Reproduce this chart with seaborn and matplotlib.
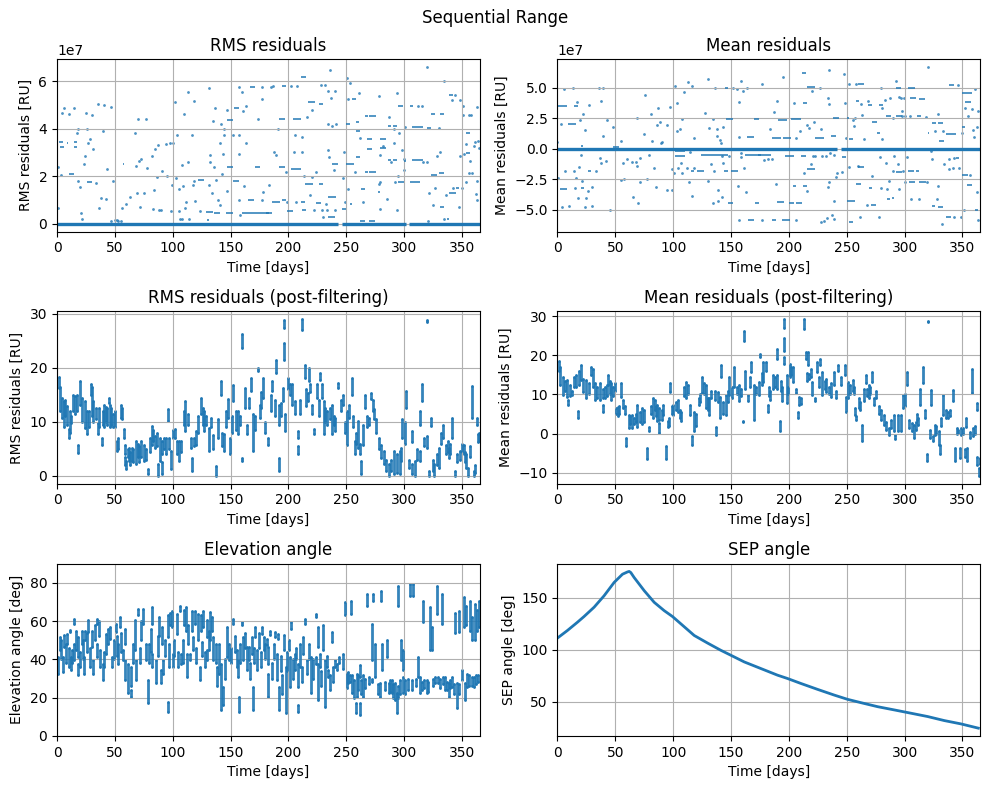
import matplotlib
matplotlib.use("Agg")
import matplotlib.pyplot as plt
from matplotlib.ticker import MultipleLocator
import seaborn as sns
import numpy as np

BLUE = "#1f77b4"
SCALE = 1e7  # top panels are read in units of 1e7 RU
XMAX = 365.25

# ---- RMS residuals (raw), values in 1e7 RU ----
rms_pts = [
    (0.5, 0.67), (1, 2.37), (3.5, 2.06), (4.3, 4.67), (6.3, 4.87), (10.7, 4.64), (15, 4.88), (18.4, 4.0),
    (17.5, 3.84), (17.8, 1.81), (20, 1.53), (21, 0.46), (21.5, 0.21), (23, 2.5), (24, 2.86), (24.8, 4.67),
    (25.5, 3.97), (27, 3.39), (28.2, 3.58), (30.5, 4.56), (31, 3.14), (34, 1.71), (35, 5.06), (36, 0.66),
    (37.7, 1.1), (39.5, 3.9), (41, 4.98), (42.6, 1.05), (43, 2.3), (46.7, 4.92), (46.7, 0.11), (48.7, 1.81),
    (50, 0.15), (51.5, 0.17), (53, 0.12), (55, 0.1), (56, 0.66), (60, 0.84), (63, 1.12), (67, 3.84),
    (68, 2.44), (69.5, 1.3), (70.3, 4.39), (71, 2.65), (72, 0.7), (73, 2.72), (75, 1.3), (77, 4.39),
    (77.5, 2.33), (82, 2.86), (83, 0.63), (84, 1.44), (85, 3.14), (86, 1.95), (87, 3.3), (88, 0.56),
    (90, 0.56), (91, 2.23), (94, 3.35), (95, 2.02), (97.7, 3.39), (98.5, 0.52), (99, 1.65), (100.5, 3.38),
    (102, 5.12), (103, 1.91), (104, 3.72), (105, 0.52), (105.5, 1.46), (106, 0.21), (108, 0.21), (108.6, 1.6),
    (108, 2.47), (110, 4.63), (111, 0.66), (111.5, 0.9), (113, 5.54), (113.5, 2.61), (114, 0.21), (117, 3.72),
    (118, 5.16), (118, 1.81), (117.6, 1.63), (119, 0.95), (123.6, 0.52), (131, 1.63), (131.7, 5.72), (132, 2.9),
    (132.3, 2.61), (134, 1.28), (135, 4.32), (135.7, 2.4), (136.6, 4.88), (137, 1.84), (139.5, 0.98), (141, 0.8),
    (141, 3.38), (141.8, 4.21), (143, 2.09), (143.8, 2.93), (144.4, 3.72), (144.6, 3.97), (146.7, 4.81),
    (146.7, 1.37), (152.4, 3.72), (157, 3.74), (157, 2.93), (157.6, 5.76), (157.6, 0.98), (158, 0.35),
    (160, 5.55), (160.8, 4.74), (162, 1.6), (163, 4.95), (163.7, 3.42), (174, 4.42), (177.5, 0.98),
    (177.5, 5.26), (177.5, 5.76), (178, 1.32), (183.5, 1.63), (184.7, 5.76), (187, 5.8), (187.6, 3.03),
    (189, 2.89), (191, 3.97), (198, 2.19), (199, 0.93), (202, 5.82), (205, 3.0), (205.8, 3.72), (206.6, 0.93),
    (207, 5.82), (212, 3.67), (212, 3.04), (213.5, 2.02), (216, 4.5), (218.7, 1.19), (220, 4.77), (220.7, 1.95),
    (222, 0.56), (223.6, 2.19), (228, 5.86), (232, 5.86), (229, 0.56), (229.7, 0.28), (232.6, 0.84),
    (233.7, 0.56), (234.6, 5.58), (234.6, 4.18), (234.6, 3.11), (235.4, 2.82), (236, 6.46), (236.9, 5.3),
    (238, 4.11), (239, 2.27), (239.8, 0.56), (240, 5.58), (241, 4.18), (247, 1.92), (247.6, 3.04), (249, 0.9),
    (250.4, 6.14), (251.8, 1.46), (251.8, 5.26), (253, 5.93), (257.6, 2.16), (261, 5.5), (262, 3.63), (264, 0.9),
    (278, 1.67), (278, 5.4), (279, 2.89), (279, 1.74), (279, 0.63), (282, 3.28), (285.5, 1.05), (287, 4.49),
    (288.5, 2.61), (291, 3.42), (291, 3.97), (292, 1.74), (294, 5.5), (293.6, 0.56), (294.5, 2.02),
    (295.4, 3.81), (298, 3.1), (299.6, 2.27), (300, 2.72), (301, 4.07), (311.6, 4.95), (315, 4.95), (316, 2.61),
    (319.6, 2.61), (320, 6.6), (321, 0.1), (321.4, 1.28), (324.5, 0.8), (327, 1.49), (328.5, 2.86), (330, 4.04),
    (330.7, 3.03), (334, 0.21), (334.5, 6.0), (336, 1.19), (341, 5.19), (342.6, 1.49), (344, 5.44),
    (347.6, 0.7), (348, 5.19), (348, 2.86), (350, 1.49), (351, 4.6), (351, 4.95), (352, 2.93), (353, 3.35),
    (353, 1.77), (356, 2.12), (356, 4.6), (356.7, 2.65), (358, 4.6), (358.5, 2.12), (360, 3.28), (361.5, 3.45),
    (362, 1.26), (363, 4.92), (363, 0.98), (363, 1.81), (363.7, 3.49), (364.3, 3.17),
]
# runs of repeated values: (start day, end day, value)
rms_runs = [
    (1.5, 5.5, 3.46), (3, 6, 3.24), (8.5, 9.5, 3.4), (10, 15, 2.09), (15, 17, 3.46), (15, 17, 3.24),
    (26, 30, 1.74), (56.8, 58, 2.5), (122, 127, 1.86), (129, 135, 0.49), (130, 131.5, 0.17), (136, 141, 0.45),
    (146.7, 152, 2.37), (146.7, 152, 4.37), (146, 152, 0.45), (153, 157, 4.88), (152, 157, 1.81),
    (160, 183, 0.46), (165, 170, 0.98), (167, 171, 5.76), (171, 175, 2.37), (181, 186, 0.46), (186, 193, 0.93),
    (192, 197, 4.39), (192, 197, 2.37), (194, 198, 0.98), (194, 198, 5.82), (199, 204, 0.52), (202, 211, 2.3),
    (204, 211, 4.42), (211, 215, 6.2), (211, 214, 0.93), (212, 215, 0.56), (214, 221, 1.67), (217, 223, 5.12),
    (224, 228, 0.88), (226, 230, 5.06), (226, 230, 1.67), (234, 241, 1.12), (238, 243, 2.5), (234, 240, 0.28),
    (246, 250, 0.6), (250, 253, 4.2), (250, 257, 2.5), (253, 255, 0.84), (255, 258, 5.26), (258, 261, 4.28),
    (258, 262, 3.9), (258, 262, 2.82), (263, 266, 1.46), (262, 266, 0.1), (266, 269, 4.53), (266, 269, 2.16),
    (268, 272, 3.58), (268, 272, 3.14), (270, 276, 4.53), (270, 276, 2.16), (270, 275, 0.1), (277, 279, 1.35),
    (279, 284, 3.17), (279, 284, 3.55), (286, 289, 4.11), (286, 289, 2.69), (290, 294, 2.69), (290, 294, 4.11),
    (295, 299, 4.95), (295, 300, 1.77), (300, 302, 2.65), (305, 308, 4.95), (305, 314, 1.77), (307, 316, 2.69),
    (307, 316, 4.07), (320, 323, 4.04), (323, 328, 2.06), (323, 327, 4.64), (330, 334, 2.12), (331, 334, 4.64),
    (331, 334, 0.7), (337, 339, 0.21), (339, 342, 5.44), (339, 345, 1.28), (345, 347, 1.49), (353, 357, 3.81),
    (353, 357, 2.97),
]
rms_zero = [(0, 243), (246, 302), (304.5, XMAX)]

# ---- Mean residuals (raw), values in 1e7 RU ----
mean_pts = [
    (0, 0.51), (0.5, -2.43), (3, 2.0), (3.7, -4.81), (5.8, 4.84), (6.3, -1.84), (10, -4.68), (13.8, 4.92),
    (14.4, -1.84), (15, -3.27), (15.9, -2.38), (17.3, 3.84), (17.9, -4.08), (18.4, -1.51), (19.6, 2.35),
    (20, -0.54), (21, -2.65), (22.5, 2.84), (23.6, -4.81), (24, 1.54), (24.5, -4.08), (26, -3.46), (27.4, 3.57),
    (30, -4.68), (30, -3.19), (33, -1.84), (36, 5.0), (37, -0.76), (37.5, -1.16), (37.5, 3.89), (39, 1.05),
    (39.5, 5.0), (41.8, -1.03), (43, 2.3), (45, -5.03), (47.6, 1.76), (54.8, 0.65), (55.3, -2.6), (57.6, -2.51),
    (57, -1.16), (60.5, -0.84), (64, -1.1), (65.7, -4.0), (67.7, -1.1), (69, -1.43), (69, 2.54), (70, -4.46),
    (71, -2.78), (71.5, -0.76), (75, 1.19), (75.8, 4.38), (77, -2.51), (79, -0.54), (81, 2.84), (82, 0.59),
    (83.6, -1.57), (85.6, -3.19), (85.9, 1.95), (86.5, 3.3), (88.5, 2.16), (89.3, 0.46), (90.2, 0.51),
    (94.5, -3.4), (95, 1.95), (97.4, 3.38), (99.4, -3.4), (99.4, -1.7), (101, -1.97), (101.7, 5.1), (103, 3.76),
    (103, 1.46), (104.6, -1.57), (106, 1.6), (106.6, -1.22), (107.5, 2.43), (108, -1.97), (109, 4.65),
    (111.8, -1.57), (113, 5.46), (113.8, -2.73), (114.7, -0.3), (116, -3.86), (116.7, 5.1), (117.6, -1.57),
    (118, 0.86), (127.7, 2.89), (129.7, 5.73), (130.5, -2.65), (131, 1.68), (132.5, -1.3), (134, 2.4),
    (134, -4.46), (135.4, -1.84), (136.3, 4.92), (137.5, 1.6), (137.7, 1.0), (139, -3.4), (139, -4.32),
    (140.6, 0.73), (141, 0.46), (141.8, -0.62), (142.7, -1.16), (142.6, -4.0), (143.5, 1.73), (148.4, -0.57),
    (152, 4.92), (155, 4.84), (155.6, -3.05), (156.5, 3.78), (157, 0.95), (157, -5.89), (158.5, -0.35),
    (159, -0.68), (159, 5.54), (160, 4.7), (160.8, -1.62), (162.8, -3.54), (164, 5.0), (177, 5.27),
    (177, -5.84), (178.7, -0.97), (181.6, -0.89), (183.6, 1.6), (185, -0.89), (187, 3.03), (188.8, -2.92),
    (190, 3.92), (194.5, 5.86), (204.6, 3.76), (206, 0.86), (206, -5.89), (209.5, 1.41), (212.7, -2.03),
    (215.6, 1.95), (216, -3.46), (217, 1.68), (219, -1.3), (220, 4.7), (220.5, -0.62), (222, 2.14),
    (223, -0.57), (226.8, 5.0), (227.7, 1.62), (227.7, -6.03), (229, -0.62), (230.5, -5.97), (232, -0.57),
    (232.8, -5.7), (233.4, -3.19), (233.4, 4.11), (234.3, 3.65), (235, -2.78), (235, 6.46), (235.7, -0.35),
    (237, -5.43), (238.6, -4.27), (239, -0.49), (239, -5.76), (240.6, -2.32), (242, -2.03), (246, -1.92),
    (248, 6.14), (248.7, 3.7), (249, 0.86), (251.6, -1.49), (252, 5.27), (255, 2.35), (256.5, 1.81),
    (257, 2.49), (258, 5.27), (260, -1.43), (261.7, -5.62), (262, 3.65), (263, 2.76), (265, 0.78),
    (267.4, -4.62), (268.6, 3.89), (271.5, -2.24), (278, -5.57), (279.5, -3.27), (280, 4.92), (280.4, 0.78),
    (280.4, 3.3), (278.7, -0.68), (283, 3.97), (283.8, -1.16), (284.7, -3.32), (286.7, -2.65), (287.6, 4.11),
    (289.6, 2.54), (289.6, -1.84), (291, -0.62), (292.5, 5.51), (294, -1.3), (295.4, -3.32), (295.4, 4.19),
    (296.8, 4.16), (297.4, 3.08), (298, 2.7), (299, -1.84), (299.7, 4.11), (300.3, -2.73), (300.3, 2.68),
    (301.7, -0.68), (304.8, 2.68), (305.6, -4.14), (312.7, -4.14), (318.4, 2.57), (319.3, -2.73),
    (319.9, 6.68), (322.8, -0.22), (323.4, -0.89), (326.2, 1.46), (327.7, -4.14), (328.5, 2.84),
    (329.3, -3.05), (332, -6.16), (332.9, 1.46), (334.3, -1.24), (338, -0.89), (338.6, -1.65),
    (341.5, -1.57), (342.4, -5.57), (343, -0.76), (346.4, 5.19), (347.3, -1.57), (348.7, -5.57),
    (349.3, 1.27), (351.6, -5.03), (352.4, 3.35), (355, 2.68), (356.8, -2.16), (358, 3.22), (358.8, 1.54),
    (360, 0.95), (361, 4.84), (362.5, 1.76), (363, -3.59), (363.7, 3.11), (363.7, -5.89),
]
mean_runs = [
    (0.5, 8, 3.49), (2, 8, -3.32), (9, 16, 2.0), (14, 18, 3.49), (20, 22, 0.19), (20, 23, -3.24),
    (26, 29, -1.84), (48, 53, 0.1), (102, 110, -0.62), (102, 110, -0.22), (115, 118, -1.84), (121, 127, -1.84),
    (124, 147, -0.49), (144, 147, -1.84), (145, 147, 4.92), (145.5, 152, 2.4), (147, 152, -4.46),
    (150, 155.6, -1.84), (162, 175.9, -0.49), (164, 170, 0.92), (165, 170, -5.84), (170, 174, 2.4),
    (170.6, 174, -4.46), (173, 184.4, -0.49), (185, 189, -5.89), (185, 193, 0.86), (190, 196, -4.4),
    (190.8, 198.8, 2.35), (194, 201, -5.89), (195, 201.7, 0.86), (197, 204.6, -0.57), (200, 204, -4.49),
    (201.7, 210.4, 2.4), (203.7, 206, -3.05), (206, 211, -4.49), (211, 215, 6.19), (210.4, 215, -0.57),
    (212, 216, 3.76), (212, 216, -3.05), (215.6, 223, 5.05), (216, 223, -1.7), (223, 230.5, 0.86),
    (236, 240.6, 1.05), (237.8, 243.5, 2.49), (246, 249, -0.68), (250, 252, 2.49), (250, 257, -4.32),
    (252, 255.6, 0.78), (252, 255, -6.03), (258, 261, 3.89), (258, 262, -2.92), (260, 265, -1.49),
    (260, 265, 5.27), (268, 272, 3.54), (269, 272, -3.24), (271, 275, -4.62), (272, 276, 2.16),
    (276.5, 278.5, 1.27), (277.5, 281, 3.57), (284, 288, 2.68), (285, 287, -4.14), (289, 291, -4.05),
    (292.5, 296.8, 4.97), (292.5, 298, 2.68), (292.5, 298, -1.92), (302.6, 308, -1.84), (303, 309.4, 5.0),
    (304, 309.4, -2.73), (305, 309.8, 4.11), (309.8, 312.7, -1.84), (311, 314, 2.68), (312.7, 317.6, 4.03),
    (312.7, 318.4, -2.73), (320, 321.5, 1.27), (323.4, 326.2, -4.73), (323.4, 327, 2.08),
    (328.5, 332.9, -4.76), (329, 332.9, 2.08), (330, 334.3, 0.65), (335.7, 339.5, 1.19), (335.7, 340, -5.57),
    (338.6, 343, 5.19), (339.5, 344.4, 1.19), (344.4, 347.3, -0.76), (350, 352, 1.76), (349.3, 354.5, 4.59),
    (350, 354.5, -2.16), (352, 357, 3.84), (353.6, 358.5, -3.0), (355, 358, 4.59), (361, 363.7, -5.03),
]
mean_zero = [(0, 242), (245, XMAX)]

# ---- post-filtering passes: (day, low, high) spread of each pass ----
post_rms = [
    (1.5, 16.3, 18.4), (2.5, 12, 16.5), (4, 10.8, 14.5), (6, 9, 13.8), (7, 11, 14), (8.5, 9.5, 13),
    (10.3, 7, 8.6), (11, 8, 12), (12.5, 9.8, 11), (14, 12, 15), (15.5, 11.4, 14.8), (17, 12, 15),
    (18, 4.3, 5.8), (20, 13.2, 17.5), (22, 10, 14.5), (24, 8.9, 13.8), (26, 7.7, 12), (27.5, 9, 12),
    (29.5, 15, 17), (30.5, 11, 16.5), (31.5, 10, 13.8), (33.5, 10.5, 12.5), (35.5, 7.7, 9.8),
    (36.5, 9, 12.5), (38.5, 5.8, 7), (40, 9.5, 12), (41, 9, 13.2), (42, 10, 12.8), (43.5, 9.5, 12.5),
    (44.5, 13.5, 14.5), (45.5, 9, 13.2), (47, 9.5, 12.5), (48.5, 9, 11.4), (50, 9, 12), (51.5, 4.6, 6.5),
    (53, 5, 7), (55, 10.8, 13.2), (56, 10.5, 12.5), (57.5, 7, 8.6), (58.5, 2, 3.5), (59, 4, 5.8),
    (60, 1.2, 2.8), (61, 3.5, 5), (62, 2.8, 5.2), (63, 2, 4.5), (64.5, 2.8, 5.2), (66, 2.5, 5),
    (68, 2.2, 6.5), (70, 3.5, 6), (71, 2.5, 5.5), (73, 3.5, 6.5), (75, 2.8, 5.8), (76.5, 3, 5),
    (78.5, 0.3, 1.2), (80, 4.5, 7), (82, 5.8, 9.2), (83, 6.5, 8.5), (84.5, 5.2, 7.4), (86, 5.5, 8),
    (87, 0, 2.2), (89, 2.8, 7), (90.5, 4, 6.5), (91, 0.3, 2.5), (92.5, 5, 7), (94, 4, 7), (96, 10.2, 12.3),
    (97, 5, 7), (98.8, 1.2, 4.6), (100, 7, 8.5), (102, 7, 8.6), (103.5, 4, 6.5), (105.5, 2.8, 6.5),
    (107.5, 4.5, 6.5), (109.5, 9.5, 12), (111, 8.3, 13.8), (113, 9.5, 11.5), (115.5, 5.2, 7.1),
    (117, 0.9, 3.4), (118.5, 5.5, 7), (120.5, 5.8, 8.3), (122, 8, 11), (124, 11.4, 14.5), (126, 9.5, 12.5),
    (127, 8.3, 12), (129, 9.5, 11), (131, 4.6, 8.9), (133, 9, 10.8), (134.5, 5, 7.5), (137, 0, 1.8),
    (139.5, 7, 10.5), (141.5, 15, 17.5), (143, 5.5, 8), (144.5, 4.6, 7.7), (146, 9, 12), (147.5, 10.8, 14.2),
    (149.5, 4, 7), (151, 8, 11), (152.5, 13.8, 16.9), (154.5, 8.5, 12), (156.5, 7.7, 12), (158, 9.5, 11),
    (159.6, 2.8, 3.4), (160, 23.7, 26.2), (162.5, 12.6, 16.3), (164.5, 7.7, 9.5), (166, 12.5, 14.5),
    (167.5, 15.7, 18.2), (169.5, 4.6, 11.4), (171.5, 8.5, 11), (174, 19.4, 20), (175, 10.8, 13.2),
    (176.5, 12.5, 15.5), (178, 14.5, 18.2), (180, 8, 10), (182, 5.8, 7), (184.5, 12, 15), (186, 15.7, 17.5),
    (188, 11, 14), (189.5, 19, 21.5), (191.5, 9.5, 13.2), (192, 0.9, 3.4), (193.5, 11, 13.5),
    (195.5, 13.8, 16.3), (196, 27.4, 28.9), (196, 21.5, 24.6), (197, 8.3, 11.4), (199.5, 16, 18.2),
    (201, 15, 17), (203, 13.2, 17), (205.5, 11.4, 13.8), (208, 4, 5.5), (208.5, 7, 8.3), (210, 11.5, 14),
    (212, 27, 29), (214.5, 18.2, 20.6), (215.5, 13, 16), (217, 13.8, 15.4), (217.5, 17.5, 20),
    (219, 15.5, 17), (220, 11.4, 13.2), (222, 7.7, 8.6), (224.5, 14.5, 17), (226, 11, 14), (227, 17.8, 19),
    (229, 14.5, 17), (230.5, 7.7, 13.8), (232, 10, 12.5), (233.5, 9.5, 12), (235.5, 10.5, 12.5),
    (237.5, 7.7, 13.2), (239, 9.5, 11), (240.5, 8.3, 10.8), (243, 16.3, 17.2), (245, 12, 14),
    (247, 13.2, 15), (249, 8, 10), (250.5, 5.8, 12), (252.5, 10.8, 13.2), (254.5, 15, 18.2), (256, 9, 11),
    (257.5, 4, 6.5), (258.5, 6, 8), (260, 5.2, 10.2), (261.5, 4, 6), (262.7, 0.3, 2.8), (264.7, 5.8, 9.5),
    (266.5, 12.6, 15), (268, 9, 11), (269.3, 9.5, 10.8), (271, 14.2, 15.4), (273, 12, 14), (274, 10.5, 12.3),
    (276, 8, 10.5), (278, 5, 7), (280, 3.4, 5.8), (282.3, 2.2, 4.6), (284.5, 1, 3), (286.5, 0, 2.2),
    (288.5, 1, 3), (291, 0.3, 4.6), (293.5, 0.5, 4), (296, 0.3, 4.6), (297, 2.8, 5.2), (298.5, 7, 10.5),
    (300.5, 6, 10), (302, 12.6, 15.7), (304.5, 1.5, 3), (306.5, 0.3, 2.2), (307, 6.2, 8.3), (309.5, 0, 2.8),
    (311.5, 3, 5), (313.5, 9.5, 12), (314, 2.8, 4.6), (315, 13.8, 17), (317, 5.5, 7), (319.5, 5.2, 7.4),
    (320, 28.5, 28.9), (321.3, 0, 0.9), (323, 9.2, 10.8), (324.5, 1, 3), (326, 0, 2.2), (328, 2, 4),
    (330.3, 1.5, 5.2), (332, 6, 8), (333.7, 7, 9.5), (336, 4, 5.8), (337.5, 4.5, 6.5), (339, 3.4, 5.2),
    (340, 4, 6), (341.3, 7, 10.8), (344, 0, 0.9), (346, 2.5, 4), (348.5, 3, 4.6), (350, 4.5, 6),
    (351.3, 4, 5.8), (352.5, 2.5, 4.5), (353.8, 1.5, 4), (355, 0, 1.5), (357, 3.5, 5.5), (358.5, 10.8, 16.6),
    (360, 0, 0.9), (361.5, 0.5, 2), (363, 9.5, 10.8), (364, 6.2, 7.7), (365, 6.5, 8),
]
post_mean = [
    (1.7, 16, 18.6), (2.5, 12.5, 17), (4.7, 9.8, 14.5), (6.5, 11, 13.5), (8.5, 9.4, 13.6), (9.5, 7.3, 8.6),
    (11, 9.5, 12.5), (12.3, 9.8, 11), (14, 12, 14.5), (15.8, 12, 14.9), (17.9, 4, 5.8), (18.5, 12.5, 16),
    (20, 13.6, 17.4), (22, 10.5, 14), (25, 9, 13.6), (27, 10, 13), (29, 14.9, 17), (31, 12, 16.5),
    (32.5, 8.6, 12.8), (34.5, 9, 12), (37, 8.6, 12.8), (39, 5.6, 7.3), (39.5, 9, 11.5), (41, 9, 12),
    (42.5, 9.5, 12.5), (43.5, 12.4, 14.9), (45, 10, 13.5), (46, 8.6, 12.8), (48, 9.5, 12), (49.5, 11, 12.8),
    (51, 5, 6.5), (52, 4.4, 6.9), (53.5, 5, 7), (54.5, 9.4, 12.8), (56.5, 6.5, 8.6), (58, 5, 7),
    (59.2, -3.2, -1.1), (61.5, 1.4, 4.8), (62.5, 2.5, 4.5), (64.5, 1.4, 4.8), (66, 2.5, 4), (68, 3, 5),
    (69, 1.8, 7.3), (71, 3, 5.5), (73, 2.5, 6.5), (75, 3, 6), (77.5, -6.6, -3.6), (79, 0.6, 1.8),
    (80.5, 5, 7), (82.2, 4, 9), (84, 6, 8.5), (85.5, 4.5, 7), (86, 3.1, 7.3), (87.5, 0.2, 2.7),
    (88, 3.5, 6.5), (90, 3.5, 6), (91.5, 4.8, 7.3), (93.5, -6.6, -3.2), (95.2, 1.8, 3.1), (96, 2, 4),
    (97.2, 10.7, 12.8), (99, 5, 7), (100, 4.8, 7.3), (102.5, 6, 8), (103.8, 5.6, 8.6), (105.5, 4, 6),
    (107, 3.1, 5.6), (109.5, 9.5, 12), (111, 9, 13.2), (113, 10, 12.5), (114.6, 4.8, 7.3),
    (116.6, -2.8, -0.7), (118.3, 0.6, 5.6), (120, 2, 5), (122, 7.3, 9), (123, 8, 10), (125, 10.3, 14.5),
    (126.5, 10, 13), (128.5, 6.5, 12.4), (130, 6, 9), (131.2, 4.8, 9), (133, 9, 11), (136, 8.6, 11),
    (137.4, -0.3, 1.8), (138.5, 8, 10.5), (140.5, 4, 9.4), (141.7, 14.5, 17.4), (143, 5, 8),
    (145.5, 4.8, 9.8), (147, 8, 11), (148, 9.8, 14.5), (150.5, 9, 12), (153, 12, 17), (155, 10, 12),
    (157.3, 8.2, 12.4), (159, 9.5, 11.5), (160.5, 2.9, 3.3), (161, 23.7, 26.2), (162.5, 11.5, 16.1),
    (164.5, 8.2, 9.8), (166, 12, 14.5), (167.5, 15.7, 18.2), (169.5, 3.5, 12.4), (171.5, 10, 12),
    (174, 9.8, 13.2), (175, 19.5, 20.3), (176.5, 12.5, 15.5), (178, 13.2, 18.2), (180, 16, 18.2),
    (181.7, 5.6, 7.3), (183, 9.5, 12), (184, 8.6, 11), (186, 11.5, 14.9), (188, 12, 14.5),
    (189.5, 11.5, 14.9), (189.7, 19, 21.6), (192.5, 0.6, 3.1), (193, 11, 13.5), (194, 8.2, 11.9),
    (195.6, 17.8, 19.5), (195.8, 27, 29.2), (195.8, 21.2, 24.5), (198.2, 7.7, 14.9), (199.5, 10, 12),
    (200.8, 14.5, 17.8), (202, 15, 17), (203.7, 13.2, 17), (206.2, 10.3, 11.5), (208, 4, 5.6),
    (208.8, 7.3, 9.4), (210.5, 7.5, 9), (213, 26.6, 29.2), (214.5, 19, 20.8), (215.5, 13.5, 15.5),
    (216.5, 17.4, 20.8), (217, 14, 15.3), (219, 14.5, 16.5), (220.2, 9.8, 13.2), (222.3, 8.2, 9),
    (224.5, 15.7, 18.2), (226, 12, 14.5), (227.3, 17.4, 19), (229, 9.8, 15.7), (231, 11.5, 13.5),
    (232.5, 10.7, 14), (234.5, 10, 12), (236, 9.4, 12.8), (238.9, 12.4, 15.7), (240.5, 9, 11),
    (242.2, 16.1, 17.4), (245, 12.5, 14.5), (248.5, 14.9, 17.4), (249.5, 5.6, 9.4), (251.5, 9, 13.2),
    (252.5, 10, 12.5), (255, 11, 13.6), (256.5, 10, 12), (257.5, 4.8, 6.5), (258.3, 3.5, 4.4),
    (260.8, 6.5, 9), (261.5, 6, 8), (263, -1.9, 2.3), (264.5, 8.2, 11.5), (266.6, 12.8, 14.9),
    (267.5, 9.5, 11.5), (269, 9, 12.4), (270.5, 10, 12), (272, 13.2, 15.7), (273.2, 7.3, 9), (275, 9, 11),
    (277.5, 5, 7), (279.6, 3.5, 6), (281.8, 2.3, 4.8), (284, 1, 3), (286.6, -0.3, 1.4), (288.5, 1.5, 3.5),
    (291, 0.6, 4.8), (291.5, -1.5, -0.3), (294, 0.6, 4.8), (296.5, 0.6, 4.8), (298.9, 6.5, 9.8),
    (300, 7, 10), (301.7, 12.4, 15.7), (303.5, 1.5, 3.5), (306.5, 0.6, 2.7), (307.7, -1.1, 2.3),
    (309.5, 1, 3), (311, 3.5, 5), (312, 2.3, 4), (313.2, 7.3, 11.5), (315.7, 12.8, 17), (317.5, 4, 6),
    (319.7, -7, -5.3), (320, 28.6, 28.8), (322, -1, 1), (322.6, 7.3, 11.1), (324.3, -1.9, -0.7),
    (326.5, -0.3, 2.3), (327.5, 0, 2), (329.4, -2.8, 0.6), (330.8, -5.3, -2.8), (331.5, 2, 4),
    (333.6, 4.8, 9.8), (335.5, 4, 6), (337.2, 4, 5.6), (339.5, 4.5, 6), (341.7, 8.2, 11.1),
    (343.7, -7, -3.6), (345, 0, 1.5), (346.5, 0.2, 1), (348, -6.1, -3.6), (348.5, -0.3, 1.4),
    (350.5, 0, 1.5), (352, -6, -4), (353.2, 1.8, 4), (354.2, -7, -3.6), (356.5, -1, 0.5),
    (358.5, 10.3, 16.6), (359.5, -0.7, 1.4), (360.5, 0, 2), (362.3, 6, 7.7), (362.5, -8, -6),
    (364.4, -10.8, -8.7), (364.8, -7.8, -6.1),
]
elevation = [
    (1.2, 32.6, 41.2), (2.8, 44.7, 51.6), (3.5, 40, 50), (4.8, 33.4, 41.2), (6.2, 46.4, 52.5),
    (7.5, 38, 48), (8.5, 48, 53.4), (10, 36, 46), (11, 54.2, 55.5), (11.8, 34.3, 41.2), (13, 38, 45),
    (14.5, 39.5, 48.2), (15, 58.6, 61.2), (16.5, 45, 55), (17.8, 41.2, 51.6), (18.5, 31.7, 37.8),
    (19.5, 36, 44), (21.4, 48, 55), (22.5, 40, 50), (23.5, 32.6, 41.2), (24.2, 50, 55), (26, 44, 54),
    (27, 54.2, 60.3), (28.5, 36, 46), (30, 46.4, 55), (31, 32.6, 39.5), (32.5, 50, 58), (34.5, 41.2, 48.2),
    (34.6, 58.6, 61.2), (36.5, 52, 60), (37.5, 36, 45), (39.3, 29, 37.8), (41, 36, 44), (42.2, 43, 53.4),
    (44, 48, 56), (45.8, 50.8, 56.8), (47.5, 36, 41.2), (49, 40, 50), (50.8, 54.2, 58.6), (51.5, 42, 52),
    (53, 37.8, 48.2), (54.5, 56.8, 62), (55.5, 44, 54), (57.4, 39.5, 44.7), (58.7, 48.2, 56), (59, 29, 39.5),
    (61.6, 22.2, 37.8), (63.5, 20.5, 23.9), (64, 26, 36), (66, 38, 48), (67.5, 44.7, 60.3), (68.5, 29, 39.5),
    (70.3, 62.9, 66.4), (71.5, 38, 46), (73, 50, 60), (74.6, 58.6, 66.4), (76.8, 39.5, 48.2), (78.2, 17, 29),
    (79.5, 38, 48), (81, 44, 56), (82.5, 58.6, 67.2), (82.5, 36, 43), (85.5, 27.4, 39.5), (87, 42, 52),
    (88.5, 52, 62), (89.5, 27.4, 34.3), (90.5, 48.2, 56.8), (92, 32.6, 39.5), (93.5, 42, 50),
    (95.5, 12.7, 17.9), (95.5, 51.6, 62.9), (97, 36, 48), (98, 58, 64), (99, 56.8, 65.5), (100.5, 36, 43),
    (101.5, 42, 50), (103.5, 53.4, 63.8), (104.5, 36, 44), (106, 65.5, 68.1), (107.3, 37.8, 43),
    (109, 38, 50), (110, 58, 66), (111.3, 55, 67.2), (112, 30.8, 43), (113.5, 48, 58), (115, 39.5, 43),
    (116.5, 55, 65.5), (117.5, 44.7, 51.6), (119.3, 58.6, 65.5), (120.5, 38, 46), (122.2, 50, 63.8),
    (123.5, 29, 36), (124, 55, 63), (125, 42, 49), (126.5, 56.8, 65.5), (128, 36, 44), (129.4, 51.6, 60.3),
    (130, 39.5, 44.7), (131, 45, 55), (132.3, 50, 64.6), (134, 55, 62), (135.2, 39.5, 51.6),
    (137.5, 38, 48), (138.5, 26, 36), (140, 32.6, 48.2), (141.7, 13.5, 37.8), (143.8, 16.1, 25.6),
    (145, 30, 40), (146.6, 41.2, 56.8), (148.2, 39.5, 48.2), (150, 38, 46), (152.2, 58.6, 61.2),
    (153.5, 44, 52), (155.4, 36, 44.7), (156.5, 30.8, 39.5), (157.2, 12.7, 20.5), (158.5, 38, 48),
    (160, 57.7, 59.4), (161, 39.5, 51.6), (162.5, 46, 54), (164, 34.3, 46.4), (165.5, 39.5, 46.4),
    (166.5, 30, 38), (168.5, 43, 51.6), (169.7, 13.5, 25.6), (170.5, 38, 46), (171.2, 51.6, 56.8),
    (173.2, 34.3, 44.7), (174.5, 46, 54), (176, 36, 44), (177, 53.4, 56.8), (178.5, 44.7, 51.6),
    (180, 40, 48), (181.3, 47.3, 50.8), (182, 37.8, 46.4), (182.5, 20.5, 32.6), (184.2, 52.5, 55),
    (186, 30, 38), (187.5, 40, 48), (188.5, 51.6, 54.2), (190, 29, 43), (191.3, 50.8, 53.4),
    (191.5, 13.5, 25.6), (193.5, 34, 42), (194.5, 22, 32), (196.3, 44.7, 52.5), (197.5, 11.8, 36),
    (199, 34, 44), (200.4, 44.7, 50), (201.4, 25.6, 41.2), (202.4, 56, 59.4), (203.5, 30, 40),
    (205.8, 34.3, 43), (206.5, 40, 46), (208, 12.7, 16.1), (208.5, 25.6, 37.8), (210, 36, 48.2),
    (211.5, 28, 36), (213, 43, 51.6), (214.5, 58.6, 61.2), (215.8, 32.6, 39.5), (217.5, 40, 48),
    (219.5, 22.2, 41.2), (221.5, 30, 40), (223.8, 62, 63.8), (223.8, 37.8, 41.2), (225.5, 46.4, 56.8),
    (225.5, 18.7, 37.8), (227.4, 36, 43), (228.5, 26, 34), (230.2, 44.7, 57.7), (231.6, 15.3, 39.5),
    (233, 36, 42), (234.5, 30.8, 34.3), (236, 24, 32), (237.5, 49, 54.2), (238.5, 28, 36), (240, 36, 39.5),
    (241.7, 34.3, 37.8), (243.5, 38, 41), (246.8, 35.2, 43), (249, 62.9, 69.8), (250.5, 25, 33),
    (251.8, 27.4, 33.4), (253, 28, 32), (254, 63.8, 70.7), (254.7, 22.2, 31.7), (256.5, 20, 29),
    (258, 11.8, 17), (259, 20.5, 32.6), (260.5, 24, 32), (262, 30.8, 36.9), (262, 10.9, 17), (263, 22, 29),
    (264.8, 20.5, 31.7), (266.5, 25, 30), (267.5, 68.1, 74.2), (270, 27, 31), (272, 28.2, 30),
    (272, 39.5, 58.6), (272.8, 70.7, 74.2), (275, 30.8, 48.2), (277, 22, 27), (279, 20.5, 27.4),
    (280, 70.7, 75.9), (280.5, 34.3, 48.2), (283, 24, 28), (285, 41.2, 50), (286.5, 22.2, 27.4),
    (287.5, 23, 29), (289.3, 22.2, 29), (290.5, 20, 27), (292.2, 18.7, 27.4), (293.5, 11.8, 22.2),
    (294.5, 20, 26), (295, 68.1, 78.5), (296, 22, 29), (297.2, 39.5, 50), (298.7, 34.3, 44.7),
    (299.2, 22.2, 30.8), (301, 22, 29), (303, 24, 30), (305.2, 73.3, 79.4), (306.5, 24, 29),
    (308, 73.3, 79.4), (310, 26, 30), (311.7, 30.8, 41.2), (313.8, 22.2, 30.8), (315, 24, 28),
    (316.5, 59.4, 70.7), (317.5, 25, 29), (319.5, 22.2, 29), (321, 23, 28), (322.2, 44.7, 67.2),
    (324, 44.7, 56.8), (325, 26, 30), (326.8, 27.4, 30.8), (328.2, 63.8, 78.5), (329.6, 27.4, 30.8),
    (331, 25, 30), (332.5, 58.6, 74.2), (333.5, 27, 31), (335.5, 24, 30.8), (337, 24, 28),
    (338.5, 20.5, 27.4), (340, 25, 29), (341.3, 25.6, 30.8), (343, 22, 27), (344, 54, 64),
    (345.5, 14.4, 27.4), (347, 22, 27), (347.4, 54.2, 65.5), (349.8, 29, 34.3), (351.3, 56.8, 72.4),
    (352.6, 18.7, 27.4), (353.5, 58, 68), (354.2, 25.6, 32.6), (356, 26, 32), (357, 55, 70.7),
    (358.5, 26, 31), (359, 50, 62), (360, 25.6, 30.8), (361.5, 50, 69), (362.5, 27, 32), (363, 55, 66),
    (364, 28, 32), (364.5, 56.8, 70.7),
]

# ---- SEP angle ----
sep_days = [0, 8.6, 17.3, 23, 31.7, 40.3, 49, 56.2, 60.5, 62, 63.4, 66.3, 75, 83.6, 92.2, 99.4, 106.6, 118.2,
            129.7, 141.2, 149.9, 161.4, 175.8, 190.2, 198.8, 210.4, 224.8, 239.2, 250.7, 262.2, 276.7, 291,
            305.5, 319.9, 334.3, 348.7, 363.7]
sep_deg = [111.2, 118.5, 126.5, 132, 141, 152, 164.9, 172.8, 175, 175.5, 174.4, 169.6, 156.9, 145.7, 137.7,
           132, 125, 113.7, 106.4, 99.4, 94.6, 88.2, 81.8, 75.4, 72.2, 67.4, 61.7, 56.2, 52.1, 48.9, 45, 41.9,
           38.7, 35.5, 31.6, 28.4, 24.3]


def raw_panel(ax, pts, runs, zero, title, ylabel):
    t, v = zip(*pts)
    sns.scatterplot(x=np.array(t), y=np.array(v) * SCALE, ax=ax, s=4, linewidth=0, color=BLUE, alpha=0.8)
    r0, r1, rv = zip(*runs)
    ax.hlines(np.array(rv) * SCALE, r0, r1, color=BLUE, lw=1.2, alpha=0.9)
    z0, z1 = zip(*zero)
    ax.hlines([0] * len(zero), z0, z1, color=BLUE, lw=2.4)
    ax.set_title(title)
    ax.set_ylabel(ylabel)


def pass_panel(ax, passes, title, ylabel):
    t, lo, hi = zip(*passes)
    sns.scatterplot(x=list(t) + list(t), y=list(lo) + list(hi), ax=ax, s=4, linewidth=0, color=BLUE)
    ax.vlines(t, lo, hi, color=BLUE, lw=2.0, alpha=0.9)
    ax.set_title(title)
    ax.set_ylabel(ylabel)


fig, axes = plt.subplots(3, 2, figsize=(9.9, 7.89), dpi=100)

raw_panel(axes[0, 0], rms_pts, rms_runs, rms_zero, "RMS residuals", "RMS residuals [RU]")
raw_panel(axes[0, 1], mean_pts, mean_runs, mean_zero, "Mean residuals", "Mean residuals [RU]")
axes[0, 1].yaxis.set_major_locator(MultipleLocator(2.5e7))
pass_panel(axes[1, 0], post_rms, "RMS residuals (post-filtering)", "RMS residuals [RU]")
pass_panel(axes[1, 1], post_mean, "Mean residuals (post-filtering)", "Mean residuals [RU]")
pass_panel(axes[2, 0], elevation, "Elevation angle", "Elevation angle [deg]")
axes[2, 0].set_ylim(0, 90)

sns.lineplot(x=sep_days, y=sep_deg, ax=axes[2, 1], color=BLUE, lw=2.0, sort=False)
axes[2, 1].set_title("SEP angle")
axes[2, 1].set_ylabel("SEP angle [deg]")

for ax in axes.flat:
    ax.set_xlim(0, XMAX)
    ax.set_xlabel("Time [days]")
    ax.grid(True)

fig.suptitle("Sequential Range", y=0.988)
fig.subplots_adjust(left=0.0576, right=0.99, top=0.925, bottom=0.0672, hspace=0.463, wspace=0.184)
fig.savefig("out.png")
